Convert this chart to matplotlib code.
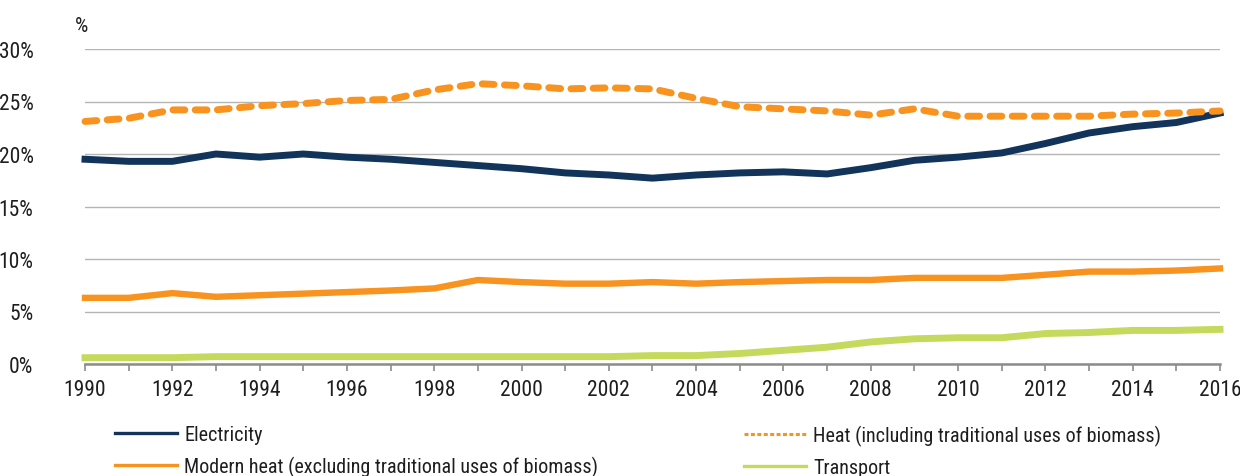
import matplotlib
matplotlib.use("Agg")
import matplotlib.pyplot as plt
from matplotlib.lines import Line2D
from matplotlib import font_manager

years = list(range(1990, 2017))

electricity = [19.5, 19.3, 19.3, 20.0, 19.7, 20.0, 19.7, 19.5, 19.2, 18.9,
               18.6, 18.2, 18.0, 17.7, 18.0, 18.2, 18.3, 18.1, 18.7, 19.4,
               19.7, 20.1, 21.0, 22.0, 22.6, 23.0, 23.9]
heat_total = [23.1, 23.4, 24.2, 24.2, 24.6, 24.8, 25.1, 25.2, 26.1, 26.7,
              26.5, 26.2, 26.3, 26.2, 25.3, 24.5, 24.3, 24.1, 23.7, 24.3,
              23.6, 23.6, 23.6, 23.6, 23.8, 23.9, 24.1]
modern_heat = [6.3, 6.3, 6.75, 6.4, 6.55, 6.7, 6.85, 7.0, 7.2, 8.0,
               7.8, 7.65, 7.65, 7.8, 7.65, 7.8, 7.9, 8.0, 8.0, 8.2,
               8.2, 8.2, 8.5, 8.8, 8.8, 8.9, 9.1]
transport = [0.6, 0.6, 0.6, 0.7, 0.7, 0.7, 0.7, 0.7, 0.7, 0.7,
             0.7, 0.7, 0.7, 0.8, 0.8, 1.0, 1.3, 1.6, 2.1, 2.4,
             2.5, 2.5, 2.9, 3.0, 3.2, 3.2, 3.3]

labels_left = ["Electricity", "Modern heat (excluding traditional uses of biomass)"]
labels_right = ["Heat (including traditional uses of biomass)", "Transport"]
y_ticks = [0, 5, 10, 15, 20, 25, 30]
y_ticklabels = ["0%", "5%", "10%", "15%", "20%", "25%", "30%"]

NAVY = "#12345a"
ORANGE = "#f7931e"
GREEN = "#c5da5c"
TEXT = "#1e1e1e"

# Pick a narrow sans face for all text
installed = {f.name for f in font_manager.fontManager.ttflist}
preferred = ["Roboto Condensed", "Fira Sans Condensed", "PT Sans Narrow",
             "Archivo Narrow", "Barlow Semi Condensed", "Liberation Sans Narrow",
             "Open Sans Condensed", "IBM Plex Sans Condensed", "Asap Condensed"]
family = [f for f in preferred if f in installed][:1] + ["DejaVu Sans"]
plt.rcParams["font.family"] = family

fig = plt.figure(figsize=(12.4, 4.77), dpi=100)
ax = fig.add_axes([85 / 1240, 1 - 365 / 477, (1220 - 85) / 1240, (365 - 50) / 477])

ax.plot(years, modern_heat, color=ORANGE, lw=4.6, solid_joinstyle="round", zorder=3)
ax.plot(years, transport, color=GREEN, lw=5.0, solid_joinstyle="round", zorder=3)
ax.plot(years, electricity, color=NAVY, lw=5.0, solid_joinstyle="round", zorder=4)
ax.plot(years, heat_total, color=ORANGE, lw=5.0, dashes=(1.7, 1.5),
        dash_capstyle="round", zorder=5)
for ln in ax.lines:
    ln.set_clip_on(False)

ax.set_xlim(1990, 2016)
ax.set_ylim(0, 30)
ax.set_yticks(y_ticks)
ax.set_yticklabels(y_ticklabels)
ax.set_xticks(years, minor=True)
ax.set_xticks(list(range(1990, 2017, 2)))
ax.grid(axis="y", color="#b5b5b5", lw=1.0)
ax.set_axisbelow(True)
for side in ("top", "right", "left"):
    ax.spines[side].set_visible(False)
ax.spines["bottom"].set_color("#8c8c8c")
ax.spines["bottom"].set_linewidth(1.8)
ax.tick_params(axis="y", length=0, pad=37, labelsize=15.5, labelcolor=TEXT)
ax.tick_params(axis="x", which="both", direction="out", length=5, width=1.2,
               color="#8c8c8c", labelsize=15.5, labelcolor=TEXT, pad=6)

fig.text(75 / 1240, 1 - 27 / 477, "%", fontsize=15, color=TEXT, va="center", ha="left")

common = dict(loc="upper left", frameon=False, fontsize=14.5, handlelength=3.1,
              handletextpad=0.35, labelspacing=0.6, borderpad=0, borderaxespad=0,
              labelcolor=TEXT)
h_left = [Line2D([], [], color=NAVY, lw=2.4), Line2D([], [], color=ORANGE, lw=2.4)]
h_right = [Line2D([], [], color=ORANGE, lw=2.2, dashes=(1.3, 0.8)),
           Line2D([], [], color=GREEN, lw=2.4)]
fig.legend(h_left, labels_left, bbox_to_anchor=(115 / 1240, 1 - 426 / 477), **common)
fig.legend(h_right, labels_right, bbox_to_anchor=(744 / 1240, 1 - 426 / 477), **common)

fig.savefig("out.png", dpi=100, facecolor="white")
